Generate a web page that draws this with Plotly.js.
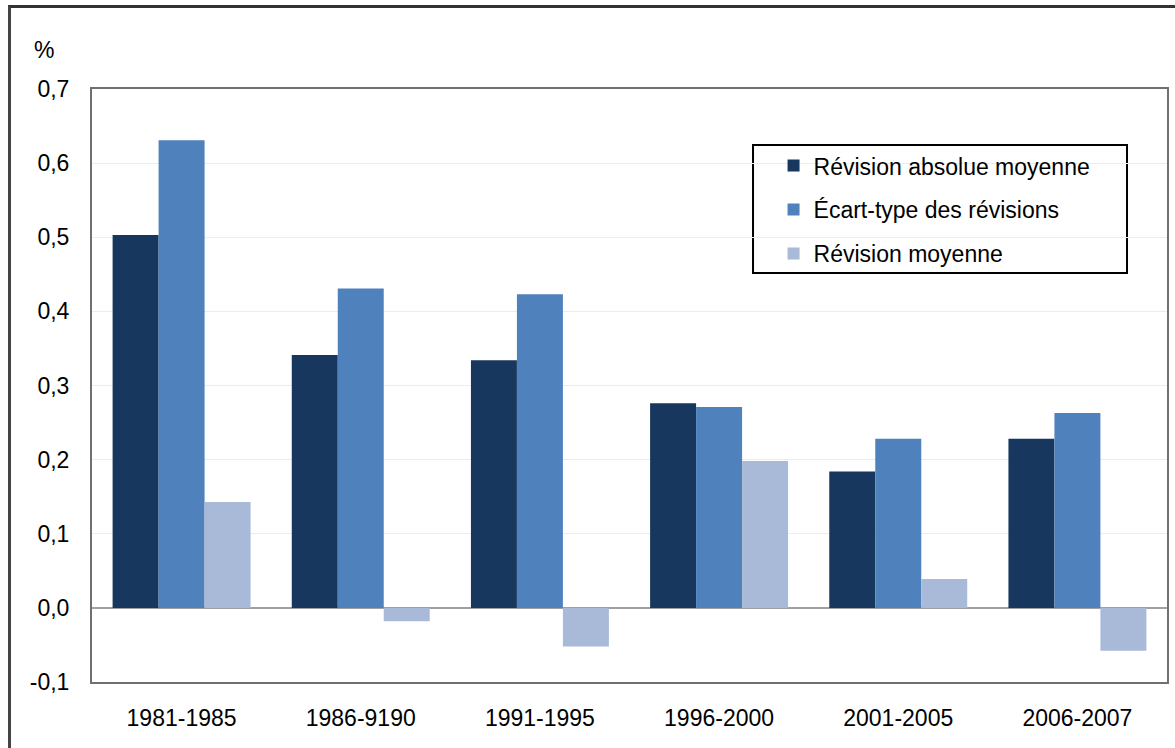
<!DOCTYPE html>
<html><head><meta charset="utf-8">
<script src="https://cdn.plot.ly/plotly-3.0.1.min.js"></script>
<style>
html,body{margin:0;padding:0;background:#fff;}
#wrap{position:relative;width:1175px;height:748px;overflow:hidden;}
#chart{position:absolute;left:0;top:0;width:1175px;height:748px;}
#frame{position:absolute;left:8px;top:5px;width:1200px;height:800px;border-left:3px solid #444;border-top:3px solid #333;pointer-events:none;}
</style></head>
<body><div id="wrap"><div id="chart"></div><div id="frame"></div></div>
<script>
const categories = ["1981-1985","1986-9190","1991-1995","1996-2000","2001-2005","2006-2007"];
const revisionAbsolueMoyenne = [0.503, 0.341, 0.334, 0.276, 0.184, 0.228];
const ecartTypeRevisions = [0.631, 0.431, 0.423, 0.271, 0.228, 0.263];
const revisionMoyenne = [0.143, -0.018, -0.052, 0.198, 0.039, -0.058];
const seriesNames = ["Révision absolue moyenne","Écart-type des révisions","Révision moyenne"];
const yTickVals = [-0.1,0,0.1,0.2,0.3,0.4,0.5,0.6,0.7];
const yTickText = ["-0,1","0,0","0,1","0,2","0,3","0,4","0,5","0,6","0,7"];

const colors = ["#17375E","#4F81BD","#A9BAD8"];
const vals = [revisionAbsolueMoyenne, ecartTypeRevisions, revisionMoyenne];
const traces = vals.map((v,i)=>({
  type:"bar", x:categories, y:v, name:seriesNames[i], legendgroup:"g"+i,
  marker:{color:colors[i], line:{width:0}}, hoverinfo:"x+y"
}));
const font = {family:"Liberation Sans, Arial, sans-serif", size:23, color:"#000"};
const layout = {
  width:1175, height:748,
  margin:{l:92, r:8, t:89, b:66},
  paper_bgcolor:"rgba(0,0,0,0)", plot_bgcolor:"#fff",
  font:font,
  barmode:"group", bargap:0.23, bargroupgap:0,
  showlegend:true,
  legend:{x:0.634, y:0.907, xanchor:"left", yanchor:"top",
    bgcolor:"rgba(0,0,0,0)", borderwidth:0,
    font:{family:font.family, size:23, color:"#000"}, tracegroupgap:11, itemwidth:30},
  xaxis:{type:"category", showline:true, linecolor:"#707070", linewidth:2, mirror:true,
    ticks:"", ticklabelstandoff:14, tickfont:font, showgrid:false, zeroline:false},
  yaxis:{range:[-0.1,0.7], tickvals:yTickVals, ticktext:yTickText,
    showline:true, linecolor:"#707070", linewidth:2, mirror:true,
    ticks:"", ticklabelstandoff:16, tickfont:font,
    showgrid:true, gridcolor:"#ececec", gridwidth:1,
    zeroline:true, zerolinecolor:"#a0a0a0", zerolinewidth:2},
  shapes:[{type:"rect", xref:"paper", yref:"paper", x0:0.6149, x1:0.9628, y0:0.6897, y1:0.9056,
    line:{color:"#000", width:2}, fillcolor:"#fff", layer:"below"}],
  annotations:[{text:"%", xref:"paper", yref:"paper", x:0, y:1, xanchor:"right", yanchor:"middle",
    xshift:-36, yshift:39, showarrow:false, font:font}]
};
Plotly.newPlot("chart", traces, layout, {displayModeBar:false, staticPlot:true});
</script></body></html>
